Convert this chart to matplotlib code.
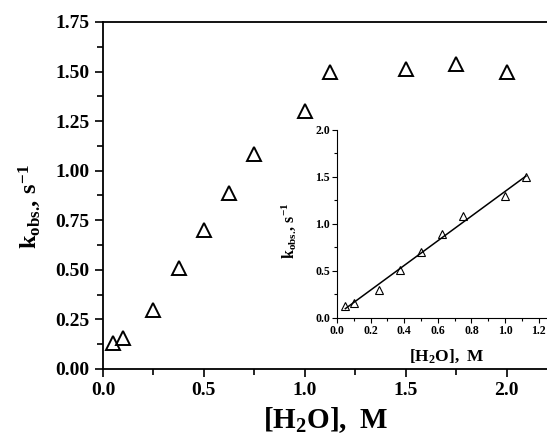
import numpy as np
import matplotlib.pyplot as plt
from matplotlib.ticker import MultipleLocator, FormatStrFormatter

plt.rcParams['font.family'] = 'Liberation Serif'
plt.rcParams['font.weight'] = 'bold'
plt.rcParams['mathtext.fontset'] = 'custom'
plt.rcParams['mathtext.rm'] = 'Liberation Serif:bold'
plt.rcParams['mathtext.it'] = 'Liberation Serif:bold'
plt.rcParams['mathtext.bf'] = 'Liberation Serif:bold'

# [H2O], M  vs  k_obs, s^-1
h2o = [0.05, 0.10, 0.25, 0.375, 0.50, 0.625, 0.75, 1.00, 1.125, 1.50, 1.75, 2.00]
kobs = [0.13, 0.155, 0.30, 0.51, 0.70, 0.89, 1.085, 1.30, 1.50, 1.515, 1.54, 1.50]

# inset: linear region only
h2o_lin = h2o[:9]
kobs_lin = kobs[:9]

xlab = r'$\mathbf{[H_2O],\ M}$'
ylab = r'$\mathbf{k_{obs.}\!,\,s^{-1}}$'

fig = plt.figure(figsize=(5.47, 4.45), dpi=100)
ax = fig.add_axes([0.1883, 0.1708, 0.8117, 0.7798])
ax.plot(h2o, kobs, linestyle='none', marker='^', ms=10, mfc='none',
        mec='black', mew=1.4)
ax.set_xlim(0, 2.2)
ax.set_ylim(0, 1.75)
ax.xaxis.set_major_locator(MultipleLocator(0.5))
ax.xaxis.set_minor_locator(MultipleLocator(0.25))
ax.yaxis.set_major_locator(MultipleLocator(0.25))
ax.yaxis.set_minor_locator(MultipleLocator(0.125))
ax.xaxis.set_major_formatter(FormatStrFormatter('%.1f'))
ax.yaxis.set_major_formatter(FormatStrFormatter('%.2f'))
ax.spines['right'].set_visible(False)
for s in ax.spines.values():
    s.set_linewidth(1.3)
ax.tick_params(which='both', direction='out', width=1.2, labelsize=14)
ax.tick_params(which='major', length=6)
ax.tick_params(which='minor', length=4)
for t in ax.get_xticklabels() + ax.get_yticklabels():
    t.set_fontweight('bold')
ax.set_xlabel(xlab, fontsize=21, va='top')
ax.xaxis.set_label_coords(0.5, -0.104)
ax.set_ylabel(ylab, fontsize=17.5, va='bottom')
ax.yaxis.set_label_coords(-0.135, 0.467)

# inset
ins = fig.add_axes([0.616, 0.2854, 0.384, 0.4225])
ins.patch.set_alpha(0)
ins.plot(h2o_lin, kobs_lin, linestyle='none', marker='^', ms=5.5, mfc='none',
         mec='black', mew=0.8)
slope, icpt = np.polyfit(h2o_lin, kobs_lin, 1)
xf = np.array([h2o_lin[0], h2o_lin[-1]])
ins.plot(xf, slope * xf + icpt, color='black', lw=1.1)
ins.set_xlim(0, 1.25)
ins.set_ylim(0, 2.0)
ins.xaxis.set_major_locator(MultipleLocator(0.2))
ins.xaxis.set_minor_locator(MultipleLocator(0.1))
ins.yaxis.set_major_locator(MultipleLocator(0.5))
ins.yaxis.set_minor_locator(MultipleLocator(0.25))
ins.xaxis.set_major_formatter(FormatStrFormatter('%.1f'))
ins.yaxis.set_major_formatter(FormatStrFormatter('%.1f'))
ins.spines['right'].set_visible(False)
ins.spines['top'].set_visible(False)
for s in ins.spines.values():
    s.set_linewidth(0.8)
ins.tick_params(which='both', direction='out', width=0.8, labelsize=8.5, pad=1.5)
ins.tick_params(which='major', length=3.5)
ins.tick_params(which='minor', length=2)
for t in ins.get_xticklabels() + ins.get_yticklabels():
    t.set_fontweight('bold')
ins.set_xlabel(xlab, fontsize=12.5, va='top')
ins.xaxis.set_label_coords(0.52, -0.154)
ins.set_ylabel(ylab, fontsize=11.5, va='bottom')
ins.yaxis.set_label_coords(-0.18, 0.463)

fig.savefig('out.png', dpi=100)
